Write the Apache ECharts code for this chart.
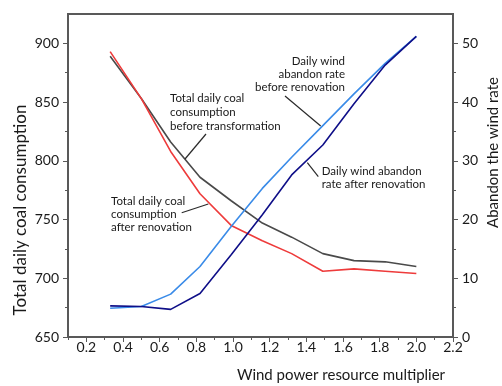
<!DOCTYPE html>
<html>
<head>
<meta charset="utf-8">
<script src="https://cdn.jsdelivr.net/npm/echarts@6/dist/echarts.min.js"></script>
<style>
html,body{margin:0;padding:0;background:#fff;}
#chart{width:502px;height:386px;}
</style>
</head>
<body>
<div id="chart"></div>
<script>
// ---- data ----
var multiplier = [0.33, 0.5, 0.66, 0.82, 0.99, 1.16, 1.32, 1.49, 1.66, 1.83, 2.0];
var coalBefore = [889, 853, 816, 786, 766, 747, 735, 721, 715, 714, 710];
var coalAfter  = [893, 853, 808, 772, 745, 732, 721, 706, 708, 706, 704];
var windBefore = [4.9, 5.2, 7.3, 12.0, 18.8, 25.3, 30.6, 36.0, 41.4, 46.6, 51.2];
var windAfter  = [5.3, 5.2, 4.7, 7.4, 14.0, 20.8, 27.6, 32.7, 39.7, 46.3, 51.2];

var xTickLabels = [0.2, 0.4, 0.6, 0.8, 1.0, 1.2, 1.4, 1.6, 1.8, 2.0, 2.2];
var xMinorTicks = [0.1, 0.3, 0.5, 0.7, 0.9, 1.1, 1.3, 1.5, 1.7, 1.9, 2.1];
var leftTickLabels = [650, 700, 750, 800, 850, 900];
var leftMinorTicks = [675, 725, 775, 825, 875];
var rightTickLabels = [0, 10, 20, 30, 40, 50];
var rightMinorTicks = [5, 15, 25, 35, 45];

function pairs(xs, ys){ return xs.map(function(x,i){ return [x, ys[i]]; }); }

var AX = '#595959';
var FONT = 'Lato';
var chart = echarts.init(document.getElementById('chart'), null, {renderer:'canvas'});

function xAx(major){
  return {
    type:'value', min:0.1, max:2.2, position:'bottom', offset:0,
    axisLine:{show:major, onZero:false, lineStyle:{color:AX, width:2}},
    axisTick:{show:true, inside:false, length: major?5:3, lineStyle:{color:AX,width:1}, customValues: major?xTickLabels:xMinorTicks},
    axisLabel:{show:major, customValues: xTickLabels, margin:3, color:'#1a1a1a', fontFamily:FONT, fontSize:14,
      formatter:function(v){ return Number(v).toFixed(1); }},
    splitLine:{show:false}
  };
}
function yAx(pos, min, max, ticks, major){
  return {
    type:'value', min:min, max:max, position:pos, offset:0,
    axisLine:{show:major, onZero:false, lineStyle:{color:AX, width:2}},
    axisTick:{show:true, inside:false, length: major?5:3, lineStyle:{color:AX,width:1}, customValues: ticks},
    axisLabel:{show:major, customValues: ticks, margin:9, color:'#1a1a1a', fontFamily:FONT, fontSize:14},
    splitLine:{show:false}
  };
}

var option = {
  animation:false,
  backgroundColor:'#fff',
  grid:{left:68, right:49, top:14, bottom:49, show:true, borderColor:AX, borderWidth:2, backgroundColor:'transparent'},
  xAxis:[ xAx(true), xAx(false) ],
  yAxis:[
    yAx('left', 650, 925, leftTickLabels, true),
    yAx('left', 650, 925, leftMinorTicks, false),
    yAx('right', 0, 55, rightTickLabels, true),
    yAx('right', 0, 55, rightMinorTicks, false)
  ],
  series:[
    {name:'Total daily coal consumption before transformation', type:'line', xAxisIndex:0, yAxisIndex:0,
     data:pairs(multiplier, coalBefore), showSymbol:false, lineStyle:{color:'#4a4a4a', width:1.6}, z:3},
    {name:'Total daily coal consumption after renovation', type:'line', xAxisIndex:0, yAxisIndex:0,
     data:pairs(multiplier, coalAfter), showSymbol:false, lineStyle:{color:'#ee3b3b', width:1.6}, z:4},
    {name:'Daily wind abandon rate before renovation', type:'line', xAxisIndex:0, yAxisIndex:2,
     data:pairs(multiplier, windBefore), showSymbol:false, lineStyle:{color:'#3a8be8', width:1.6}, z:5},
    {name:'Daily wind abandon rate after renovation', type:'line', xAxisIndex:0, yAxisIndex:2,
     data:pairs(multiplier, windAfter), showSymbol:false, lineStyle:{color:'#0f0f88', width:1.6}, z:6}
  ],
  graphic:[
    {type:'text', x:21, y:210, rotation:Math.PI/2, style:{text:'Total daily coal consumption', fill:'#1a1a1a', font:'17px Lato', align:'center', verticalAlign:'middle'}},
    {type:'text', x:341, y:375, style:{text:'Wind power resource multiplier', fill:'#1a1a1a', font:'15px Lato', align:'center', verticalAlign:'middle'}},
    {type:'text', x:493, y:152.5, rotation:Math.PI/2, style:{text:'Abandon the wind rate', fill:'#1a1a1a', font:'15px Lato', align:'center', verticalAlign:'middle'}},

    {type:'text', x:170, y:91.5, style:{text:'Total daily coal\nconsumption\nbefore transformation', fill:'#1a1a1a', font:'11.5px Lato', lineHeight:14, align:'left', verticalAlign:'top'}},
    {type:'text', x:111, y:194.5, style:{text:'Total daily coal\nconsumption\nafter renovation', fill:'#1a1a1a', font:'11.5px Lato', lineHeight:13, align:'left', verticalAlign:'top'}},
    {type:'text', x:345, y:54.5, style:{text:'Daily wind\nabandon rate\nbefore renovation', fill:'#1a1a1a', font:'11.5px Lato', lineHeight:13, align:'right', verticalAlign:'top'}},
    {type:'text', x:321.7, y:165, style:{text:'Daily wind abandon\nrate after renovation', fill:'#1a1a1a', font:'11.5px Lato', lineHeight:13, align:'left', verticalAlign:'top'}},

    {type:'line', shape:{x1:206, y1:134, x2:185, y2:159}, style:{stroke:'#2a2a2a', lineWidth:1.2}, z:10},
    {type:'line', shape:{x1:181.7, y1:212.7, x2:208.3, y2:204}, style:{stroke:'#2a2a2a', lineWidth:1.2}, z:10},
    {type:'line', shape:{x1:285, y1:96, x2:320.7, y2:126}, style:{stroke:'#2a2a2a', lineWidth:1.2}, z:10},
    {type:'line', shape:{x1:307.3, y1:162.7, x2:318.3, y2:176.7}, style:{stroke:'#2a2a2a', lineWidth:1.2}, z:10}
  ]
};
chart.setOption(option);
</script>
</body>
</html>
